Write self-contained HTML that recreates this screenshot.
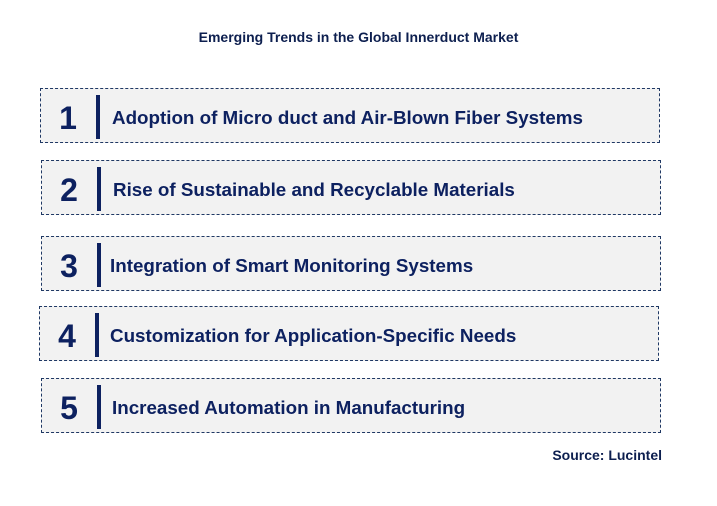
<!DOCTYPE html>
<html><head><meta charset="utf-8"><style>
body{margin:0;width:717px;height:506px;background:#fff;position:relative;font-family:"Liberation Sans",sans-serif;overflow:hidden}
.t{position:absolute;top:29px;left:0;width:717px;text-align:center;font-weight:bold;font-size:14px;color:#0d1f4f}
.b{position:absolute;width:620px;height:55px;background:#f2f2f2;border:1px dashed #1f3864;box-sizing:border-box}
.n{position:absolute;left:14px;top:9px;width:26px;text-align:center;font-size:32px;font-weight:bold;color:#0d2160;line-height:40px}
.bar{position:absolute;left:55px;top:6px;width:4px;height:44px;background:#0d2160}
.x{position:absolute;left:71px;top:18px;font-size:18.8px;font-weight:bold;color:#0d2160;white-space:nowrap}
.s{position:absolute;right:55px;top:447px;font-size:14px;font-weight:bold;color:#0d1f4f}
</style></head><body>
<div class="t">Emerging Trends in the Global Innerduct Market</div>
<div class="b" style="left:40px;top:88px"><div class="n">1</div><div class="bar"></div><div class="x">Adoption of Micro duct and Air-Blown Fiber Systems</div></div>
<div class="b" style="left:41px;top:160px"><div class="n">2</div><div class="bar"></div><div class="x">Rise of Sustainable and Recyclable Materials</div></div>
<div class="b" style="left:41px;top:236px"><div class="n">3</div><div class="bar"></div><div class="x" style="left:68px">Integration of Smart Monitoring Systems</div></div>
<div class="b" style="left:39px;top:306px"><div class="n">4</div><div class="bar"></div><div class="x" style="left:70px">Customization for Application-Specific Needs</div></div>
<div class="b" style="left:41px;top:378px"><div class="n">5</div><div class="bar"></div><div class="x" style="left:70px">Increased Automation in Manufacturing</div></div>
<div class="s">Source: Lucintel</div>
</body></html>
